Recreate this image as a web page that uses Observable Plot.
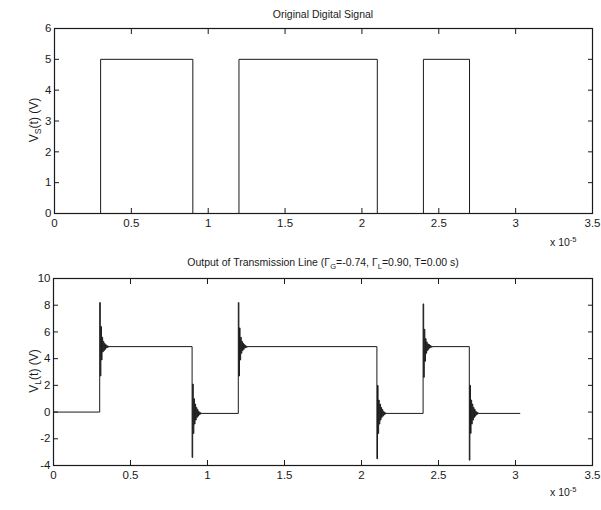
<!DOCTYPE html>
<html><head><meta charset="utf-8">
<script src="https://cdn.jsdelivr.net/npm/d3@7"></script>
<script src="https://cdn.jsdelivr.net/npm/@observablehq/plot@0.6"></script>
<style>
body{margin:0;background:#fff;}
#wrap{position:relative;width:601px;height:510px;overflow:hidden;}
.panel{position:absolute;left:0;}
</style></head><body><div id="wrap"></div>
<script>
// ---- tick labels ----
const xTicks = [0, 0.5, 1, 1.5, 2, 2.5, 3, 3.5];
const srcYTicks = [0, 1, 2, 3, 4, 5, 6];
const outYTicks = [-4, -2, 0, 2, 4, 6, 8, 10];

// ---- original digital signal (time in units of 1e-5 s) ----
const srcEdges = [0, 0.3, 0.9, 1.2, 2.1, 2.4, 2.7, 3.0];
const srcLevels = [0, 5, 0, 5, 0, 5, 0];

// ---- transmission line output ----
const outEdges = [0, 0.3, 0.9, 1.2, 2.1, 2.4, 2.7];
const outSettled = [0, 4.9, -0.1, 4.9, -0.1, 4.9, -0.1];
const ringNone = [];
const ringRise1 = [8.2, 2.7, 6.4, 3.9, 5.6, 4.5, 5.3, 4.6, 5.15, 4.7, 5.05, 4.8, 4.98, 4.84, 4.93, 4.87];
const ringFall1 = [-3.4, 2.1, -1.6, 1.0, -0.9, 0.6, -0.6, 0.35, -0.4, 0.2, -0.3, 0.05, -0.2, -0.02, -0.15, -0.07];
const ringRise2 = [8.2, 2.7, 6.3, 3.9, 5.6, 4.4, 5.3, 4.6, 5.15, 4.7, 5.05, 4.8, 4.98, 4.84, 4.93, 4.87];
const ringFall2 = [-3.5, 2.0, -1.6, 0.9, -0.9, 0.6, -0.6, 0.35, -0.4, 0.2, -0.3, 0.05, -0.2, -0.02, -0.15, -0.07];
const ringRise3 = [8.1, 2.6, 6.2, 3.8, 5.5, 4.4, 5.25, 4.6, 5.1, 4.7, 5.05, 4.8, 4.98, 4.84, 4.93, 4.87];
const ringFall3 = [-3.6, 2.0, -1.6, 0.9, -0.9, 0.6, -0.6, 0.35, -0.4, 0.2, -0.3, 0.05, -0.2, -0.02, -0.15, -0.07];
const outRings = [ringNone, ringRise1, ringFall1, ringRise2, ringFall2, ringRise3, ringFall3];
const ringStep = 0.0038;
const outEnd = 3.03;

// ---- build tables ----
const srcData = [];
srcLevels.forEach((v, i) => srcData.push({t: srcEdges[i], v}));
srcData.push({t: srcEdges[srcEdges.length - 1], v: srcLevels[srcLevels.length - 1]});

const outData = [];
outEdges.forEach((t0, i) => {
  const ring = outRings[i];
  ring.forEach((v, k) => outData.push({t: t0 + k * ringStep, v}));
  outData.push({t: t0 + ring.length * ringStep, v: outSettled[i]});
});
outData.push({t: outEnd, v: outSettled[outSettled.length - 1]});

const INK = "#1a1a1a";
const FONT = "'Liberation Sans', Arial, sans-serif";
const fmt = d => String(d);

function panel({data, yDomain, yTicks, height, mt, mb, ml, mr}) {
  return Plot.plot({
    width: 601, height,
    marginTop: mt, marginBottom: mb, marginLeft: ml, marginRight: mr,
    style: {fontFamily: FONT, fontSize: "11.5px", color: INK, background: "transparent"},
    x: {domain: [0, 3.5]},
    y: {domain: yDomain},
    marks: [
      Plot.axisX(xTicks, {anchor: "bottom", tickSize: -5, tickFormat: () => "", label: null, stroke: INK}),
      Plot.axisX(xTicks, {anchor: "top", tickSize: -5, tickFormat: () => "", label: null, stroke: INK}),
      Plot.axisY(yTicks, {anchor: "left", tickSize: -5, tickFormat: () => "", label: null, stroke: INK}),
      Plot.axisY(yTicks, {anchor: "right", tickSize: -5, tickFormat: () => "", label: null, stroke: INK}),
      Plot.axisX(xTicks, {anchor: "bottom", tickSize: 0, tickPadding: 5, tickFormat: fmt, label: null, fill: INK}),
      Plot.axisY(yTicks, {anchor: "left", tickSize: 0, tickPadding: 3, tickFormat: fmt, label: null, fill: INK}),
      Plot.line(data, {x: "t", y: "v", curve: "step-after", stroke: INK, strokeWidth: 1}),
      Plot.frame({stroke: INK, strokeWidth: 1.2})
    ]
  });
}

function addText(svg, {x, y, parts, size = 11, anchor = "middle", rotate = 0}) {
  const t = d3.select(svg).append("text")
    .attr("text-anchor", anchor)
    .attr("font-family", FONT)
    .attr("font-size", size)
    .attr("fill", INK)
    .attr("transform", `translate(${x},${y}) rotate(${rotate})`);
  let shift = 0;
  parts.forEach(([s, kind]) => {
    const sp = t.append("tspan").text(s);
    const target = kind === "sub" ? 3 : kind === "sup" ? -4 : 0;
    if (target !== shift) { sp.attr("dy", target - shift); shift = target; }
    if (kind) sp.attr("font-size", size * 0.72);
  });
}

const wrap = document.getElementById("wrap");

// top panel
const topPanel = panel({data: srcData, yDomain: [0, 6], yTicks: srcYTicks, height: 250, mt: 28, mb: 37, ml: 54, mr: 9});
topPanel.classList.add("panel"); topPanel.style.top = "0px";
wrap.appendChild(topPanel);
addText(topPanel, {x: 323, y: 18, size: 10.5, parts: [["Original Digital Signal"]]});
addText(topPanel, {x: 38, y: 120, size: 12, rotate: -90, parts: [["V"], ["S", "sub"], ["(t) (V)"]]});
addText(topPanel, {x: 550, y: 246, anchor: "start", size: 10.5, parts: [["x 10"], ["-5", "sup"]]});

// bottom panel
const botPanel = panel({data: outData, yDomain: [-4, 10], yTicks: outYTicks, height: 260, mt: 28, mb: 45, ml: 53, mr: 9});
botPanel.classList.add("panel"); botPanel.style.top = "250px";
wrap.appendChild(botPanel);
addText(botPanel, {x: 323, y: 16, size: 10.5, parts: [["Output of Transmission Line (Γ"], ["G", "sub"], ["=-0.74, Γ"], ["L", "sub"], ["=0.90, T=0.00 s)"]]});
addText(botPanel, {x: 38, y: 121, size: 12, rotate: -90, parts: [["V"], ["L", "sub"], ["(t) (V)"]]});
addText(botPanel, {x: 550, y: 246, anchor: "start", size: 10.5, parts: [["x 10"], ["-5", "sup"]]});
</script>
</body></html>
